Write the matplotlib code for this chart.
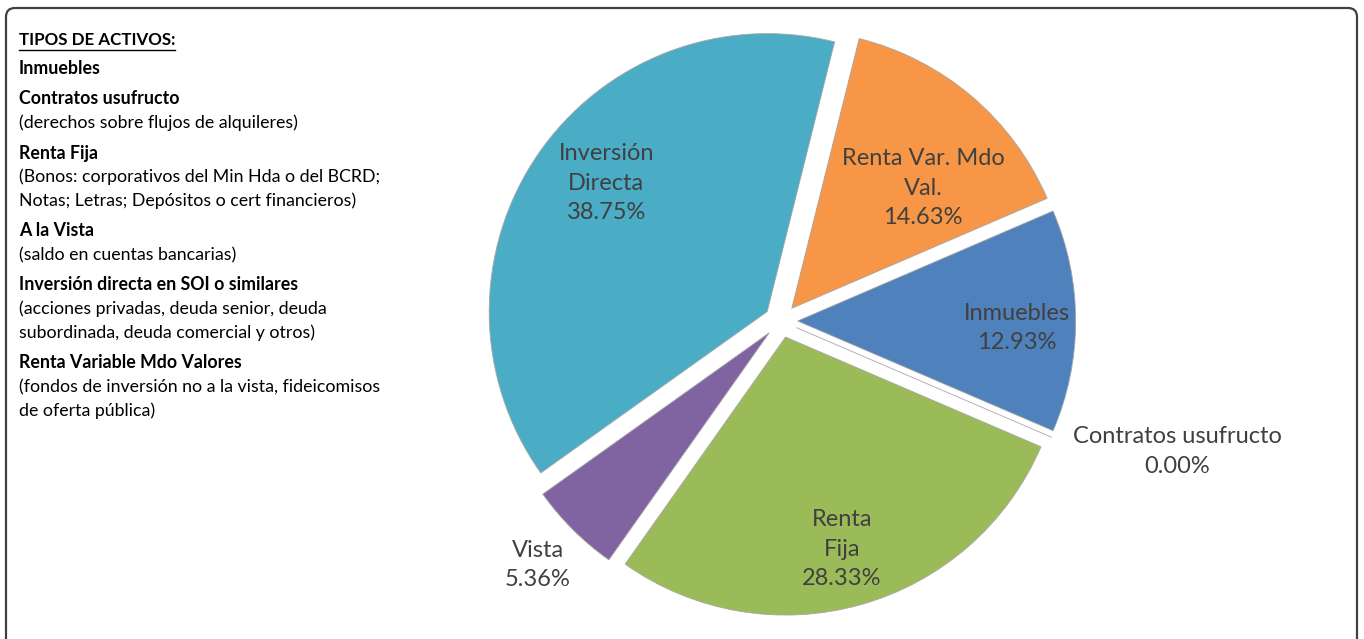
import numpy as np
import matplotlib.pyplot as plt
from matplotlib.patches import FancyBboxPatch

# datos del grafico
categorias = ['Inmuebles', 'Contratos usufructo', 'Renta\nFija', 'Vista',
              'Inversión\nDirecta', 'Renta Var. Mdo\nVal.']
porcentajes = [12.93, 0.00, 28.33, 5.36, 38.75, 14.63]
colores = ['#4F81BD', '#4F81BD', '#9BBB59', '#8064A2', '#4BACC6', '#F79646']

# distancia de la etiqueta (en radios) y pequeno giro en grados
dist_etiq = [0.85, 1.50, 0.85, 1.24, 0.80, 0.70]
giro_etiq = [-1.7, 5.0, -0.8, 0.0, -4.0, -6.6]

leyenda = [
    ('Inmuebles', True),
    ('Contratos usufructo', True),
    ('(derechos sobre flujos de alquileres)', False),
    ('Renta Fija', True),
    ('(Bonos: corporativos del Min Hda o del BCRD;', False),
    ('Notas; Letras; Depósitos o cert financieros)', False),
    ('A la Vista', True),
    ('(saldo en cuentas bancarias)', False),
    ('Inversión directa en SOI o similares', True),
    ('(acciones privadas, deuda senior, deuda', False),
    ('subordinada, deuda comercial y otros)', False),
    ('Renta Variable Mdo Valores', True),
    ('(fondos de inversión no a la vista, fideicomisos', False),
    ('de oferta pública)', False),
]

plt.rcParams['font.family'] = ['Lato', 'DejaVu Sans']

W, H = 1364, 639
fig = plt.figure(figsize=(W / 100, H / 100), dpi=100)

# marco redondeado
bg = fig.add_axes([0, 0, 1, 1])
bg.set_xlim(0, W)
bg.set_ylim(H, 0)
bg.axis('off')
bg.add_patch(FancyBboxPatch((6, 8), 1351, 700,
                            boxstyle='round,pad=0,rounding_size=9',
                            fc='white', ec='#404040', lw=1.6))

# texto de la izquierda
titulo = bg.text(19, 40, 'TIPOS DE ACTIVOS:', fontsize=12.2, fontweight='bold',
                 color='black', va='center', ha='left')
y = 69
for i, (txt, negrita) in enumerate(leyenda):
    if i > 0:
        y += 30 if negrita else 24
    bg.text(19, y, txt, fontsize=12.8, va='center', ha='left', color='black',
            fontweight='bold' if negrita else 'normal')

# subrayado del titulo
fig.canvas.draw()
bb = titulo.get_window_extent().transformed(bg.transData.inverted())
bg.plot([bb.x0, bb.x1], [49.5, 49.5], color='black', lw=1)

# grafico circular
cx, cy, r = 781, 321, 278
ax = fig.add_axes([0, 0, 1, 1])
wedges, _ = ax.pie(porcentajes, colors=colores, startangle=23.3,
                   counterclock=False, explode=[0.06] * len(porcentajes),
                   wedgeprops=dict(edgecolor='#A6A6A6', linewidth=0.6))
ax.set_xlim(-cx / r, (W - cx) / r)
ax.set_ylim((cy - H) / r, cy / r)
ax.set_aspect('auto')
ax.axis('off')

for w, cat, p, d, g in zip(wedges, categorias, porcentajes, dist_etiq, giro_etiq):
    ang = np.deg2rad((w.theta1 + w.theta2) / 2 + g)
    ax.text(d * np.cos(ang), d * np.sin(ang), f'{cat}\n{p:.2f}%',
            ha='center', va='center', fontsize=17, color='#404040',
            linespacing=1.5)

fig.savefig('out.png', dpi=100)
